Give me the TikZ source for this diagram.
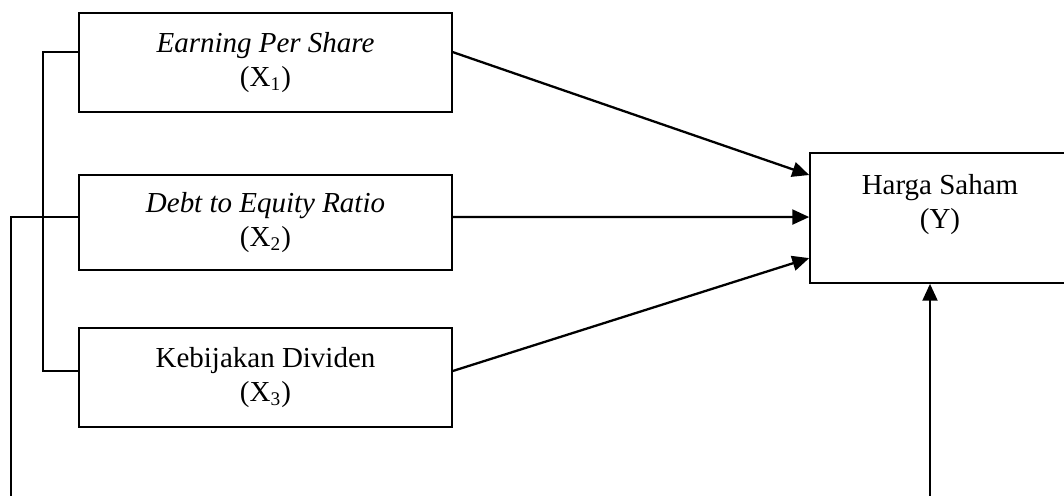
\documentclass[tikz,border=0pt]{standalone}
\usepackage{fontspec}
\setmainfont{Liberation Serif}
\usetikzlibrary{arrows.meta,positioning}

\begin{document}
\begin{tikzpicture}[x=0.414pt,y=-0.414pt,
    varbox/.style={draw,line width=0.7pt,minimum width=154.4pt,minimum height=41pt,
      align=center,inner sep=0pt,font=\fontsize{12}{14}\selectfont},
    link/.style={line width=0.65pt},
    effect/.style={line width=0.95pt,-{Triangle[length=7pt,width=6.2pt]}}]
    \clip (0,0) rectangle (1064,495);
    % independent variables
    \node[varbox] (x1) at (265.5,62.5) {\textit{Earning Per Share}\\(X\textsubscript{1})};
    \node[varbox,minimum height=39.3pt] (x2) at (265.5,222.5) {\textit{Debt to Equity Ratio}\\(X\textsubscript{2})};
    \node[varbox] (x3) at (265.5,377.5) {Kebijakan Dividen\\(X\textsubscript{3})};
    % dependent variable
    \node[varbox,minimum width=107.6pt,minimum height=53.8pt] (y) at (940,218) {Harga Saham\\(Y)\\~};
    \coordinate (bl) at (11,500);
    \coordinate (br) at (930,500);
    % simultaneous links on the left
    \draw[link] ([yshift=4.3pt]x1.west) -- ++(-35,0) |- ([yshift=2.7pt]x3.west);
    \draw[link] ([yshift=2.3pt]x2.west) -| (bl);
    % partial effects
    \draw[effect] ([yshift=4.3pt]x1.east) -- ([yshift=17.8pt]y.west);
    \draw[effect] ([yshift=2.3pt]x2.east) -- ([yshift=0.4pt]y.west);
    \draw[effect] ([yshift=2.7pt]x3.east) -- ([yshift=-16.6pt]y.west);
    \draw[effect] (br) -- (br |- y.south);
\end{tikzpicture}
\end{document}
